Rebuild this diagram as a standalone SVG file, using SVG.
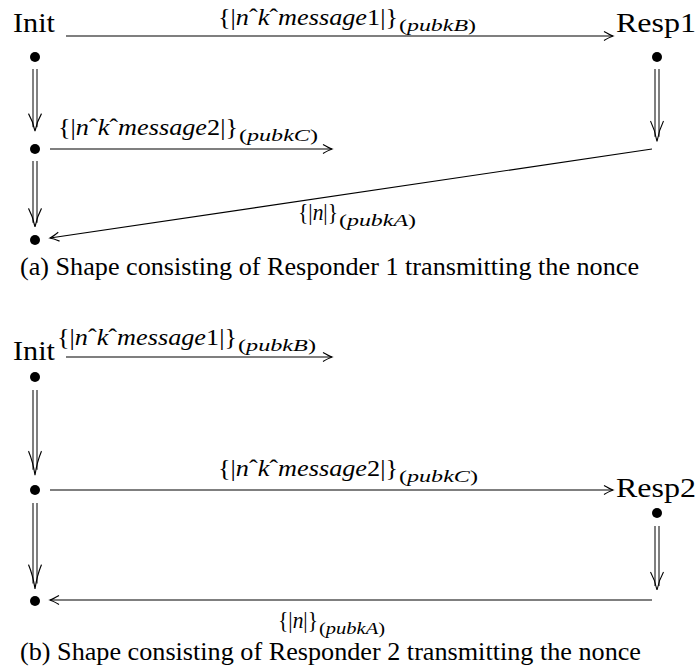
<svg xmlns="http://www.w3.org/2000/svg" width="698" height="672" viewBox="0 0 698 672">
<defs>
<style>
text{font-family:'Liberation Serif','Times New Roman',serif;fill:#000}
.nm{font-size:27px}
.cap{font-size:24.5px}
.m{font-size:23px}
.s{font-size:17px}
.i{font-style:italic}
.ln{stroke:#000;stroke-width:1.2;fill:none}
.dl{stroke:#000;stroke-width:1;fill:none}
.dot{fill:#000}
</style>
<marker id="ah" viewBox="-10 -6 12 12" refX="0" refY="0" markerWidth="12" markerHeight="12" markerUnits="userSpaceOnUse" orient="auto">
<path d="M -9 -4.5 Q -3 -1 0 0 Q -3 1 -9 4.5" fill="none" stroke="#000" stroke-width="1.1"/>
</marker>
<g id="dbl">
<path d="M -2 0 V 60 M 2 0 V 60" class="dl"/>
<path d="M -6.5 46 Q -2 54 0 64 Q 2 54 6.5 46" fill="none" stroke="#000" stroke-width="1.1"/>
</g>
</defs>

<!-- (a) -->
<g id="a-init"><text class="nm" x="13" y="32" textLength="42" lengthAdjust="spacingAndGlyphs">Init</text></g>
<g id="a-resp1"><text class="nm" x="616" y="32" textLength="80" lengthAdjust="spacingAndGlyphs">Resp1</text></g>
<g id="a-n1"><circle class="dot" cx="35" cy="57" r="5"/></g>
<g id="a-n2"><circle class="dot" cx="35" cy="149" r="5"/></g>
<g id="a-n3"><circle class="dot" cx="35" cy="240" r="5"/></g>
<g id="a-r1"><circle class="dot" cx="657" cy="57" r="5"/></g>

<g id="a-connectors">
<line class="ln" x1="66" y1="36" x2="613" y2="36" marker-end="url(#ah)"/>
<line class="ln" x1="50" y1="149" x2="332" y2="149" marker-end="url(#ah)"/>
<line class="ln" x1="652" y1="149" x2="50" y2="238" marker-end="url(#ah)"/>
<use href="#dbl" transform="translate(35,69) scale(1,0.97)"/>
<use href="#dbl" transform="translate(35,161) scale(1,1.03)"/>
<use href="#dbl" transform="translate(657,69) scale(1,1.13)"/>
</g>

<g id="a-labels">
<text class="m" x="218" y="25" textLength="180" lengthAdjust="spacingAndGlyphs">{|<tspan class="i">n</tspan>ˆ<tspan class="i">k</tspan>ˆ<tspan class="i">message</tspan>1|}</text>
<text class="s" x="399" y="31" textLength="77" lengthAdjust="spacingAndGlyphs">(<tspan class="i">pubkB</tspan>)</text>
<text class="m" x="58" y="135" textLength="180" lengthAdjust="spacingAndGlyphs">{|<tspan class="i">n</tspan>ˆ<tspan class="i">k</tspan>ˆ<tspan class="i">message</tspan>2|}</text>
<text class="s" x="239" y="141" textLength="79" lengthAdjust="spacingAndGlyphs">(<tspan class="i">pubkC</tspan>)</text>
<text class="m" x="298" y="220" textLength="40" lengthAdjust="spacingAndGlyphs">{|<tspan class="i">n</tspan>|}</text>
<text class="s" x="339" y="226" textLength="77" lengthAdjust="spacingAndGlyphs">(<tspan class="i">pubkA</tspan>)</text>
</g>
<text class="cap" x="20" y="275" textLength="619" lengthAdjust="spacingAndGlyphs">(a) Shape consisting of Responder 1 transmitting the nonce</text>

<!-- (b) -->
<g id="b-init"><text class="nm" x="13" y="360" textLength="42" lengthAdjust="spacingAndGlyphs">Init</text></g>
<g id="b-resp2"><text class="nm" x="616" y="497" textLength="80" lengthAdjust="spacingAndGlyphs">Resp2</text></g>
<g id="b-n1"><circle class="dot" cx="35" cy="377" r="5"/></g>
<g id="b-n2"><circle class="dot" cx="35" cy="490" r="5"/></g>
<g id="b-n3"><circle class="dot" cx="35" cy="601" r="5"/></g>
<g id="b-r2"><circle class="dot" cx="657" cy="513" r="5"/></g>

<g id="b-connectors">
<line class="ln" x1="66" y1="357" x2="332" y2="357" marker-end="url(#ah)"/>
<line class="ln" x1="50" y1="490" x2="613" y2="490" marker-end="url(#ah)"/>
<line class="ln" x1="652" y1="600" x2="50" y2="600" marker-end="url(#ah)"/>
<use href="#dbl" transform="translate(35,390) scale(1,1.33)"/>
<use href="#dbl" transform="translate(35,503) scale(1,1.34)"/>
<use href="#dbl" transform="translate(657,526) scale(1,1.0)"/>
</g>

<g id="b-labels">
<text class="m" x="57" y="345" textLength="180" lengthAdjust="spacingAndGlyphs">{|<tspan class="i">n</tspan>ˆ<tspan class="i">k</tspan>ˆ<tspan class="i">message</tspan>1|}</text>
<text class="s" x="238" y="351" textLength="78" lengthAdjust="spacingAndGlyphs">(<tspan class="i">pubkB</tspan>)</text>
<text class="m" x="218" y="476" textLength="180" lengthAdjust="spacingAndGlyphs">{|<tspan class="i">n</tspan>ˆ<tspan class="i">k</tspan>ˆ<tspan class="i">message</tspan>2|}</text>
<text class="s" x="399" y="482" textLength="79" lengthAdjust="spacingAndGlyphs">(<tspan class="i">pubkC</tspan>)</text>
<text class="m" x="278" y="628" textLength="40" lengthAdjust="spacingAndGlyphs">{|<tspan class="i">n</tspan>|}</text>
<text class="s" x="319" y="634" textLength="66" lengthAdjust="spacingAndGlyphs">(<tspan class="i">pubkA</tspan>)</text>
</g>
<text class="cap" x="20" y="660" textLength="621" lengthAdjust="spacingAndGlyphs">(b) Shape consisting of Responder 2 transmitting the nonce</text>
</svg>
